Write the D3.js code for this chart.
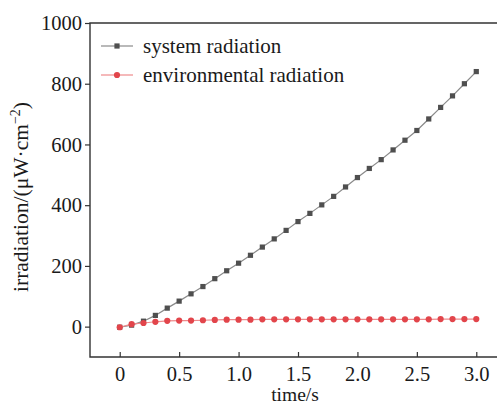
<!DOCTYPE html>
<html>
<head>
<meta charset="utf-8">
<script src="https://cdn.jsdelivr.net/npm/d3@7"></script>
<style>
  body { margin: 0; background: #fff; }
  svg text { font-family: "Liberation Serif", "DejaVu Serif", serif; fill: #1a1a1a; }
</style>
</head>
<body>
<svg width="497" height="405"></svg>
<script>
// time steps (s)
var times = [0, 0.1, 0.2, 0.3, 0.4, 0.5, 0.6, 0.7, 0.8, 0.9, 1.0,
  1.1, 1.2, 1.3, 1.4, 1.5, 1.6, 1.7, 1.8, 1.9, 2.0,
  2.1, 2.2, 2.3, 2.4, 2.5, 2.6, 2.7, 2.8, 2.9, 3.0];

// irradiation, uW/cm^2
var systemRadiation = [-2, 5, 18, 37, 61, 84, 108, 132, 158, 184, 209,
  235, 262, 289, 317, 346, 373, 401, 429, 460, 491,
  521, 550, 582, 614, 646, 684, 722, 760, 800, 840];
var envRadiation = [-2, 8, 12, 16, 19, 20, 20, 21, 22, 23, 23,
  23, 24, 24, 24, 24, 24, 24, 24, 24, 24,
  24, 24, 24, 24, 24, 24, 25, 25, 25, 25];

var xTicks = [0, 0.5, 1.0, 1.5, 2.0, 2.5, 3.0];
var yTicks = [0, 200, 400, 600, 800, 1000];
var seriesNames = ["system radiation", "environmental radiation"];

var svg = d3.select("svg"),
    plotLeft = 90, plotTop = 23, plotBottom = 357;

var x = d3.scaleLinear().domain([-0.25, 3.25]).range([plotLeft, plotLeft + 416]);
var y = d3.scaleLinear().domain([-100, 1000]).range([plotBottom, plotTop]);

var frameColor = "#333";

// frame (right side falls outside the picture)
svg.append("path")
    .attr("d", "M" + x(3.25) + "," + plotTop + "H" + plotLeft + "V" + plotBottom + "H" + x(3.25))
    .attr("fill", "none")
    .attr("stroke", frameColor)
    .attr("stroke-width", 1.4);

// x axis, ticks pointing in
var xAxis = svg.append("g")
    .attr("transform", "translate(0," + plotBottom + ")")
    .call(d3.axisBottom(x).tickValues(xTicks).tickSize(0).tickPadding(9)
      .tickFormat(function(d) { return d === 0 ? "0" : d3.format(".1f")(d); }));
xAxis.select(".domain").remove();
xAxis.selectAll(".tick line").attr("y1", 0).attr("y2", -5)
    .attr("stroke", frameColor).attr("stroke-width", 1.2);
xAxis.selectAll("text").attr("font-size", 20.5).attr("fill", "#1a1a1a");

// y axis, ticks pointing out
var yAxis = svg.append("g")
    .attr("transform", "translate(" + plotLeft + ",0)")
    .call(d3.axisLeft(y).tickValues(yTicks).tickSize(5).tickPadding(3).tickFormat(d3.format("d")));
yAxis.select(".domain").remove();
yAxis.selectAll(".tick line").attr("stroke", frameColor).attr("stroke-width", 1.2);
yAxis.selectAll("text").attr("font-size", 20.5).attr("fill", "#1a1a1a");

// axis titles
svg.append("text")
    .attr("x", 295)
    .attr("y", 401)
    .attr("text-anchor", "middle")
    .attr("font-size", 19.5)
    .text("time/s");

var yTitle = svg.append("text")
    .attr("transform", "translate(27.5,197) rotate(-90)")
    .attr("text-anchor", "middle")
    .attr("font-size", 21.5);
yTitle.append("tspan").text("irradiation/(μW·cm");
yTitle.append("tspan").attr("dy", -8).attr("font-size", 14).text("−2");
yTitle.append("tspan").attr("dy", 8).text(")");

var line = d3.line()
    .x(function(d) { return x(d[0]); })
    .y(function(d) { return y(d[1]); });

var sysData = times.map(function(t, i) { return [t, systemRadiation[i]]; });
var envData = times.map(function(t, i) { return [t, envRadiation[i]]; });

var sysLine = "#8a8a8a", sysFill = "#4f4f4f";
var envLine = "#ee8a8c", envFill = "#e2454b";

svg.append("path").datum(sysData)
    .attr("d", line).attr("fill", "none")
    .attr("stroke", sysLine).attr("stroke-width", 1.2);
svg.selectAll(".sq").data(sysData).enter().append("rect")
    .attr("class", "sq")
    .attr("x", function(d) { return x(d[0]) - 2.6; })
    .attr("y", function(d) { return y(d[1]) - 2.6; })
    .attr("width", 5.2).attr("height", 5.2)
    .attr("fill", sysFill);

svg.append("path").datum(envData)
    .attr("d", line).attr("fill", "none")
    .attr("stroke", envLine).attr("stroke-width", 1.2);
svg.selectAll(".dot").data(envData).enter().append("circle")
    .attr("class", "dot")
    .attr("cx", function(d) { return x(d[0]); })
    .attr("cy", function(d) { return y(d[1]); })
    .attr("r", 3.1)
    .attr("fill", envFill);

// legend
var legend = svg.append("g");
[0, 1].forEach(function(i) {
  var ly = 46 + i * 29;
  legend.append("line")
      .attr("x1", 101).attr("x2", 133).attr("y1", ly).attr("y2", ly)
      .attr("stroke", i === 0 ? sysLine : envLine).attr("stroke-width", 1.2);
  if (i === 0) {
    legend.append("rect").attr("x", 114.4).attr("y", ly - 2.6)
        .attr("width", 5.2).attr("height", 5.2).attr("fill", sysFill);
  } else {
    legend.append("circle").attr("cx", 117).attr("cy", ly).attr("r", 3.1).attr("fill", envFill);
  }
  legend.append("text")
      .attr("x", 143).attr("y", ly + 6.5)
      .attr("font-size", 21)
      .text(seriesNames[i]);
});
</script>
</body>
</html>
